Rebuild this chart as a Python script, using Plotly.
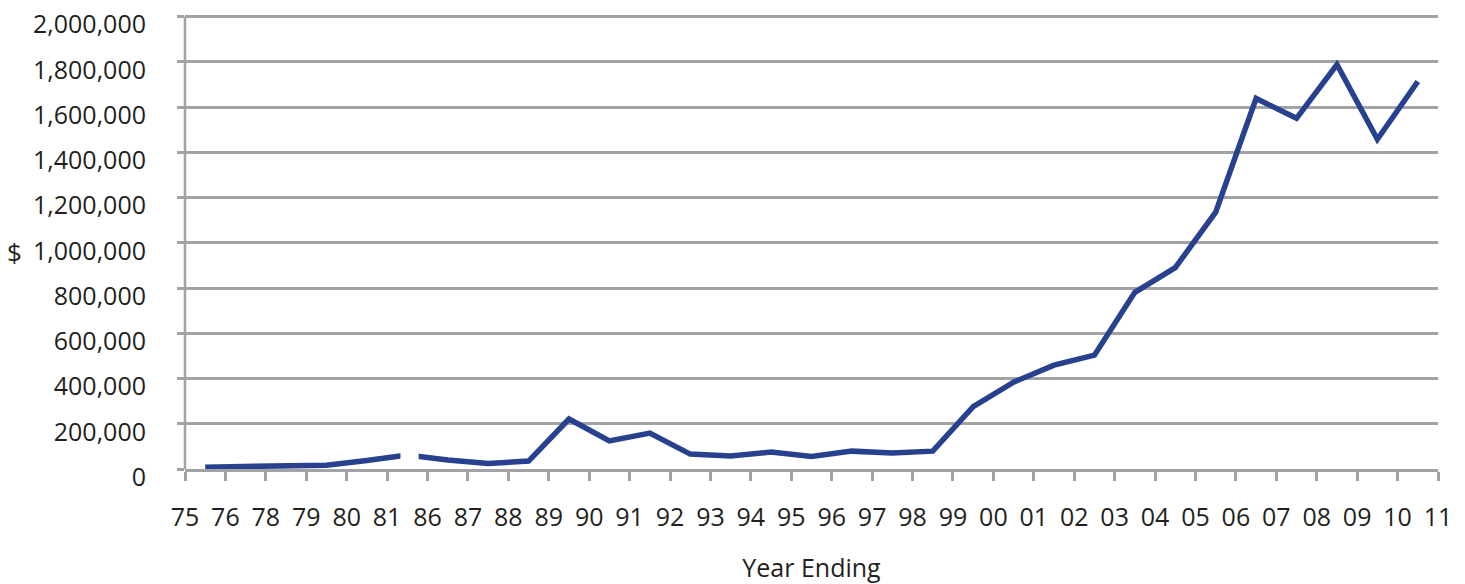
import plotly.graph_objects as go

# Category labels on the x axis (drawn at tick marks)
year_labels = ["75", "76", "78", "79", "80", "81", "86", "87", "88", "89", "90", "91",
               "92", "93", "94", "95", "96", "97", "98", "99", "00", "01", "02", "03",
               "04", "05", "06", "07", "08", "09", "10", "11"]

# Series values (plotted midway between the labelled ticks)
values = [8000, 13000, 13000, 17000, 38000, 62000, 40000, 24000, 35000, 221000,
          124000, 159000, 66000, 57000, 75000, 55000, 79000, 71000, 79000, 276000,
          384000, 459000, 503000, 781000, 890000, 1135000, 1638000, 1550000,
          1788000, 1457000, 1713000]

y_ticks = [0, 200000, 400000, 600000, 800000, 1000000, 1200000, 1400000,
           1600000, 1800000, 2000000]

x_pos = [i + 0.5 for i in range(len(values))]
tick_pos = list(range(len(year_labels)))

LINE = "#27418F"
GRID = "#A3A3A5"
TEXT = "#231F20"
FONT = "Open Sans"

fig = go.Figure()
fig.add_trace(go.Scatter(
    x=x_pos, y=values, mode="lines",
    line=dict(color=LINE, width=5.5),
    hoverinfo="skip", showlegend=False,
))

# axis break between 81 and 86
fig.add_shape(type="rect", xref="x", yref="y",
              x0=5.33, x1=5.78, y0=15000, y1=110000,
              fillcolor="white", line=dict(width=0), layer="above")

fig.update_layout(
    width=1465, height=584,
    margin=dict(l=185, r=27, t=12, b=115),
    paper_bgcolor="white", plot_bgcolor="white",
    font=dict(family=FONT, size=25, color=TEXT),
    xaxis=dict(
        range=[0, len(year_labels) - 1],
        tickmode="array", tickvals=tick_pos, ticktext=year_labels,
        showgrid=False, zeroline=False, automargin=False,
        showline=True, linecolor=GRID, linewidth=2.5,
        ticks="outside", ticklen=9, tickwidth=2.5, tickcolor=GRID,
        ticklabelstandoff=15,
        title=dict(text="Year Ending", font=dict(size=25, color=TEXT), standoff=28),
    ),
    yaxis=dict(
        range=[0, 2020000],
        tickmode="array", tickvals=y_ticks, tickformat=",",
        showgrid=True, gridcolor=GRID, gridwidth=2.5,
        zeroline=False, automargin=False,
        showline=False,
        ticks="outside", ticklen=7, tickwidth=2.5, tickcolor=GRID,
        ticklabelstandoff=26, ticklabelshift=8, ticklabeloverflow="allow",
    ),
    annotations=[dict(
        text="$", xref="paper", yref="paper",
        x=(15 - 185) / 1253, y=0.475, xanchor="center", yanchor="middle",
        showarrow=False, font=dict(size=26, color=TEXT),
    )],
)

# vertical axis line from 0 to the top gridline
fig.add_shape(type="line", xref="paper", yref="y",
              x0=0, x1=0, y0=0, y1=y_ticks[-1],
              line=dict(color=GRID, width=2.5), layer="below")

fig.write_html("out.html", config={"displayModeBar": False})

# remove the browser's default page margin so the figure sits at (0, 0)
with open("out.html", "r", encoding="utf-8") as f:
    html = f.read()
html = html.replace("<body>", '<body style="margin:0;padding:0;overflow:hidden">', 1)
with open("out.html", "w", encoding="utf-8") as f:
    f.write(html)
